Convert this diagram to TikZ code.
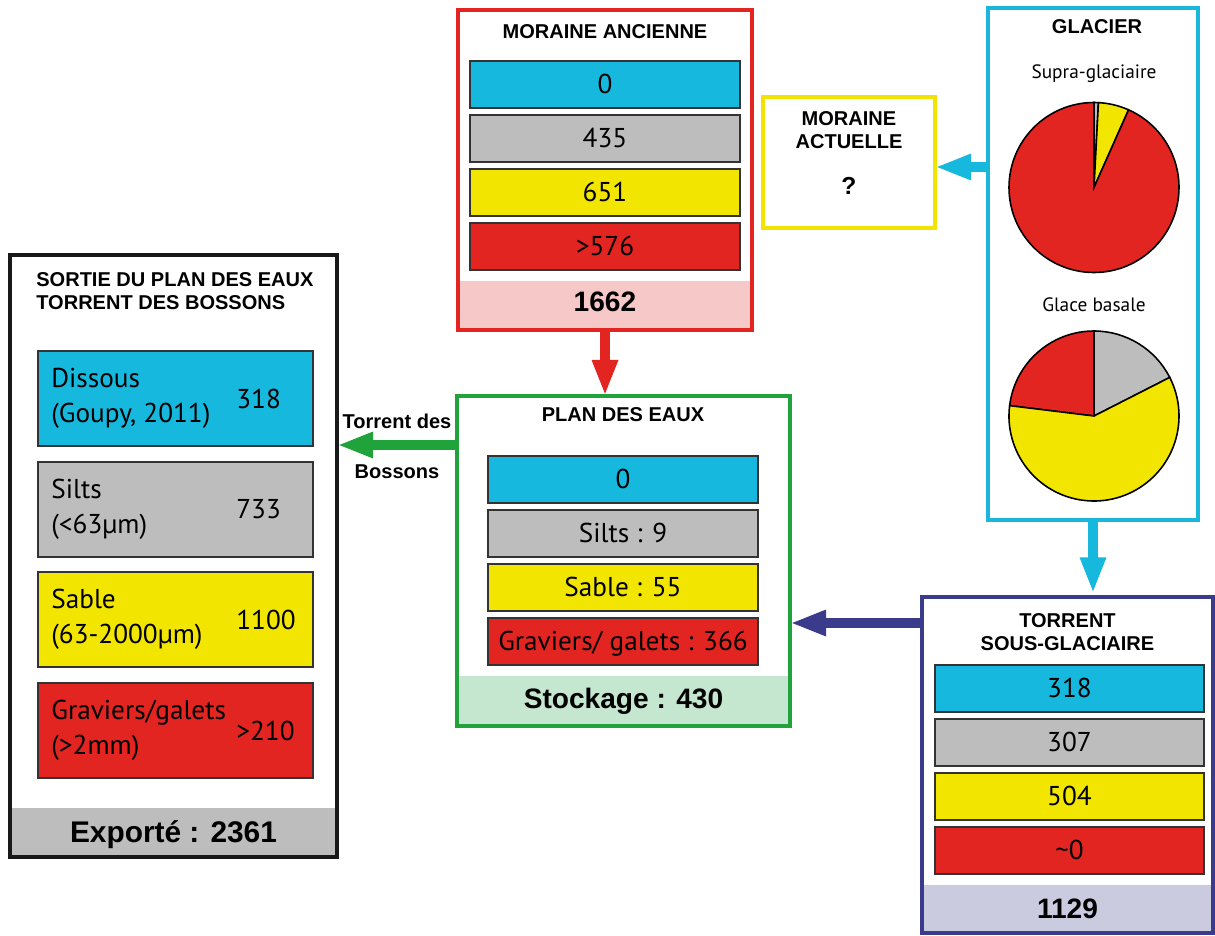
\documentclass[tikz,border=0pt]{standalone}
\usepackage{fontspec}
\setmainfont{Liberation Sans}
\newfontfamily\myriad{PT Sans}
\usetikzlibrary{arrows.meta}

\definecolor{bleu}{HTML}{16B8DD}
\definecolor{gris}{HTML}{BDBDBD}
\definecolor{jaune}{HTML}{F2E600}
\definecolor{rouge}{HTML}{E32522}
\definecolor{rose}{HTML}{F7C8C8}
\definecolor{vert}{HTML}{1FA33A}
\definecolor{vertclair}{HTML}{C5E6CF}
\definecolor{marine}{HTML}{3B3B8C}
\definecolor{lavande}{HTML}{CBCBE0}
\definecolor{cyanbord}{HTML}{1BB6DC}
\definecolor{jaunebord}{HTML}{F3E300}

\begin{document}
\begin{tikzpicture}[x=0.02cm, y=-0.02cm,
    pxbox/.style 2 args={rectangle, inner sep=0pt, outer sep=0pt,
        minimum width=#1*0.02cm, minimum height=#2*0.02cm},
    cadre/.style={line width=2pt},
    barre/.style={draw=black!80, line width=0.6pt},
    chiffre/.style={font=\myriad\fontsize{15.5}{18}\selectfont,
        text height=10.8pt, text depth=0pt, inner sep=0pt},
    texte/.style={font=\myriad\fontsize{15.5}{20}\selectfont, inner sep=0pt},
    titre/.style={font=\bfseries\fontsize{11.4}{13}\selectfont, align=center, inner sep=0pt},
    total/.style={font=\bfseries\fontsize{16}{18}\selectfont, anchor=base, inner sep=0pt},
    legende/.style={font=\myriad\fontsize{11}{13}\selectfont, inner sep=0pt},
    fleche/.style={draw=#1, line width=6.2pt,
        -{Triangle[length=20.5pt, width=13.5pt]}}]

    \useasboundingbox (0,0) rectangle (1215,936);

    % --- 1. moraine ancienne ---
    \node[pxbox={294}{49}, fill=rose] (anc-tot) at (605,305.5) {};
    \node[total] (anc-tot-t) at (605,312) {1662};
    \node[pxbox={294}{320}, cadre, draw=rouge] (ancienne) at (605,170) {};
    \node[titre] (anc-titre) at (605,32) {MORAINE ANCIENNE};
    \foreach \i/\c/\y/\v in {1/bleu/84.5/0, 2/gris/138.5/435, 3/jaune/192.5/651, 4/rouge/246.5/>576} {
        \node[pxbox={270}{47}, barre, fill=\c] (anc-\i) at (605,\y) {};
        \node[chiffre] (anc-\i-v) at (anc-\i) {\v};
    }

    % --- 2. moraine actuelle ---
    \node[pxbox={172}{131}, cadre, draw=jaunebord] (actuelle) at (849,162.5) {};
    \node[titre] (act-titre) at (849,130) {MORAINE\\ACTUELLE};
    \node[font=\bfseries\fontsize{14}{16}\selectfont, inner sep=0pt] (act-q) at (849,186) {?};

    % --- 3. glacier ---
    \node[pxbox={210}{512}, cadre, draw=cyanbord] (glacier) at (1093,264) {};
    \node[titre] (gla-titre) at (1097,27) {GLACIER};
    \node[legende] (supra) at (1094,74) {Supra-glaciaire};
    \node[legende] (basale) at (1094,305) {Glace basale};
    \begin{scope}[shift={(1094,187.5)}]
        \foreach \a/\b/\c in {87/90/gris, 66/87/jaune, 90/426/rouge}
            \filldraw[fill=\c, draw=black, line width=0.9pt]
                (0,0) -- (-\a:85) arc[start angle=-\a, end angle=-\b, radius=85] -- cycle;
    \end{scope}
    \begin{scope}[shift={(1094,416)}]
        \foreach \a/\b/\c in {27/90/gris, 90/173/rouge, 173/387/jaune}
            \filldraw[fill=\c, draw=black, line width=0.9pt]
                (0,0) -- (-\a:85) arc[start angle=-\a, end angle=-\b, radius=85] -- cycle;
    \end{scope}

    % --- 4. torrent sous-glaciaire ---
    \node[pxbox={291}{48}, fill=lavande] (sg-tot) at (1067.5,909) {};
    \node[total] (sg-tot-t) at (1067.5,918) {1129};
    \node[pxbox={291}{336}, cadre, draw=marine] (torrent) at (1067.5,765) {};
    \node[titre] (sg-titre) at (1067.5,632) {TORRENT\\SOUS-GLACIAIRE};
    \foreach \i/\c/\y/\v in {1/bleu/688.5/318, 2/gris/742.5/307, 3/jaune/796.5/504, 4/rouge/850.5/\char`\~0} {
        \node[pxbox={269}{47}, barre, fill=\c] (sg-\i) at (1069.5,\y) {};
        \node[chiffre] (sg-\i-v) at (sg-\i) {\v};
    }

    % --- 5. plan des eaux ---
    \node[pxbox={333}{50}, fill=vertclair] (eaux-tot) at (623.5,701) {};
    \node[total] (eaux-tot-t) at (623.5,708) {Stockage : 430};
    \node[pxbox={333}{330}, cadre, draw=vert] (eaux) at (623.5,561) {};
    \node[titre] (eaux-titre) at (623,415) {PLAN DES EAUX};
    \foreach \i/\c/\y/\v in {1/bleu/479.5/0, 2/gris/533.5/{Silts : 9}, 3/jaune/587.5/{Sable : 55}, 4/rouge/641.5/{Graviers/ galets : 366}} {
        \node[pxbox={270}{47}, barre, fill=\c] (eaux-\i) at (623,\y) {};
        \node[chiffre] (eaux-\i-v) at (eaux-\i) {\v};
    }

    % --- 6. sortie du plan des eaux ---
    \node[pxbox={327}{49}, fill=gris] (sortie-tot) at (173.5,832.5) {};
    \node[total, font=\bfseries\fontsize{17}{19}\selectfont] (sortie-tot-t) at (173.5,842) {Exporté : 2361};
    \node[pxbox={327}{602}, line width=2.6pt, draw=black!90] (sortie) at (173.5,556) {};
    \node[titre, align=left, anchor=north west] (sortie-titre) at (36,272) {SORTIE DU PLAN DES EAUX\\TORRENT DES BOSSONS};
    \foreach \i/\c/\y/\t/\v in {1/bleu/398.5/{Dissous\\(Goupy, 2011)}/318,
                              2/gris/509.5/{Silts\\(<63µm)}/733,
                              3/jaune/619.5/{Sable\\(63-2000µm)}/1100,
                              4/rouge/730.5/{Graviers/galets\\(>2mm)}/>210} {
        \node[pxbox={275}{95}, barre, fill=\c] (sortie-\i) at (175.5,\y) {};
        \node[texte, align=left, anchor=west] (sortie-\i-t) at (51,\y) {\t};
        \node[texte, anchor=west] (sortie-\i-v) at (236,\y) {\v};
    }

    % --- 7. fleches ---
    \coordinate (yact) at (0,167);
    \coordinate (ysortie) at (0,445);
    \coordinate (ysg) at (0,623);
    \draw[fleche=bleu] (glacier.west |- yact) -- (actuelle.east |- yact);
    \draw[fleche=bleu] (glacier.south) -- ([yshift=2]glacier.south |- torrent.north);
    \draw[fleche=rouge] (ancienne.south) -- (ancienne.south |- eaux.north);
    \draw[fleche=marine] (torrent.west |- ysg) -- (eaux.east |- ysg);
    \draw[fleche=vert] (eaux.west |- ysortie) -- (sortie.east |- ysortie)
        node[titre, midway, above=6pt] (lab-torrent) {Torrent des}
        node[titre, midway, below=8pt] (lab-bossons) {Bossons};

\end{tikzpicture}
\end{document}
